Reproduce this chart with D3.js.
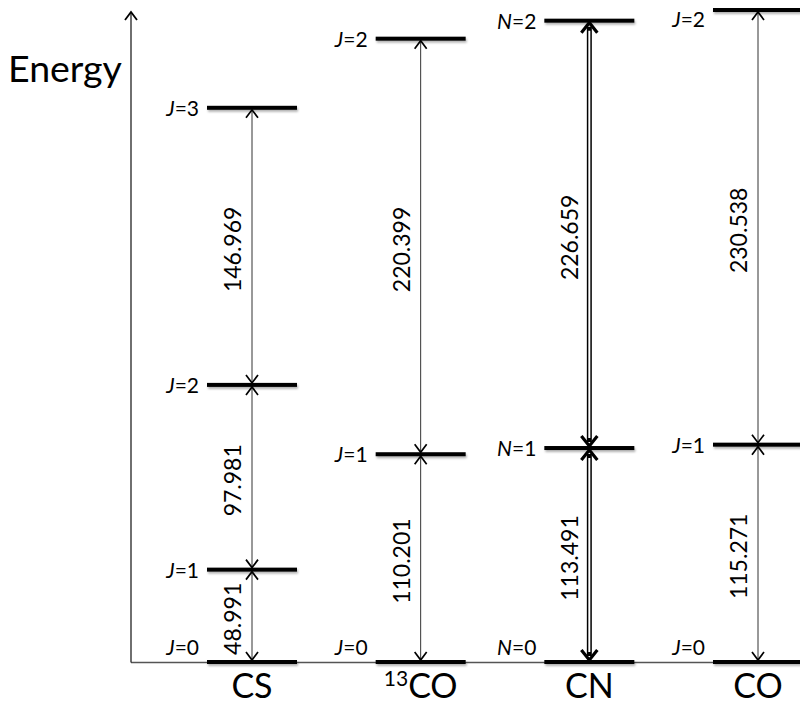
<!DOCTYPE html>
<html><head><meta charset="utf-8">
<script src="https://cdn.jsdelivr.net/npm/d3@7"></script>
<style>body{margin:0;background:#fff} svg{display:block}</style>
</head><body><svg id="c" width="800" height="706"></svg>
<script>
// ---- data ----
const molecules = ["CS", "13CO", "CN", "CO"];
const quantumSymbols = ["J", "J", "N", "J"];
const csFreqs = [48.991, 97.981, 146.969];
const co13Freqs = [110.201, 220.399];
const cnFreqs = [113.491, 226.659];
const coFreqs = [115.271, 230.538];
const transitionFreqs = [csFreqs, co13Freqs, cnFreqs, coFreqs];
const yAxisLabel = "Energy";

// ---- setup ----
const svg = d3.select("#c");
const FONT = "Lato, 'Open Sans', sans-serif";
const baseY = 662, axisX = 131;
const maxE = d3.max(transitionFreqs, f => d3.sum(f));
const y = d3.scaleLinear().domain([0, maxE]).range([baseY, 10]);
const x = d3.scalePoint().domain(molecules).range([252, 758]);
const halfBar = 45;

const defs = svg.append("defs");
const flt = defs.append("filter").attr("id", "sh").attr("filterUnits", "userSpaceOnUse")
  .attr("x", 0).attr("y", 0).attr("width", 800).attr("height", 706);
flt.append("feDropShadow").attr("dx", 1).attr("dy", 2).attr("stdDeviation", 1.2)
  .attr("flood-color", "#000").attr("flood-opacity", 0.3);

// axes
svg.append("line").attr("x1", axisX).attr("x2", 800).attr("y1", baseY + 0.5).attr("y2", baseY + 0.5)
  .attr("stroke", "#555").attr("stroke-width", 1.3);
svg.append("line").attr("x1", axisX).attr("x2", axisX).attr("y1", baseY + 0.5).attr("y2", 12)
  .attr("stroke", "#222").attr("stroke-width", 1.3);
svg.append("path").attr("d", `M${axisX - 6},${20} L${axisX},${12} L${axisX + 6},${20}`)
  .attr("fill", "none").attr("stroke", "#000").attr("stroke-width", 1.8);

svg.append("text").attr("x", 8).attr("y", 82).attr("font-family", FONT).attr("font-size", 37.5)
  .attr("fill", "#000").text(yAxisLabel);

function chevron(g, cx, tipY, dir, size, h, sw) {
  // dir = -1 pointing up, +1 pointing down
  g.append("path")
    .attr("d", `M${cx - size},${tipY - dir * h} L${cx},${tipY} L${cx + size},${tipY - dir * h}`)
    .attr("fill", "none").attr("stroke", "#000").attr("stroke-width", sw)
    .attr("stroke-linejoin", "miter");
}

molecules.forEach((m, i) => {
  const cx = x(m);
  const freqs = transitionFreqs[i];
  const levels = [0];
  freqs.forEach(f => levels.push(levels[levels.length - 1] + f));
  const g = svg.append("g");
  const isDouble = m === "CN";

  // levels (bars)
  levels.forEach((e) => {
    g.append("rect").attr("x", cx - halfBar).attr("width", 2 * halfBar)
      .attr("y", y(e) - 2).attr("height", 4).attr("fill", "#000")
      .attr("filter", "url(#sh)");
  });

  // transitions
  freqs.forEach((f, k) => {
    const y0 = y(levels[k]) - 2, y1 = y(levels[k + 1]) + 2;
    if (isDouble) {
      g.append("line").attr("x1", cx).attr("x2", cx).attr("y1", y0 - 4).attr("y2", y1 + 4)
        .attr("stroke", "#000").attr("stroke-width", 5);
      g.append("line").attr("x1", cx).attr("x2", cx).attr("y1", y0 - 8).attr("y2", y1 + 8)
        .attr("stroke", "#fff").attr("stroke-width", 2);
      chevron(g, cx, y0, 1, 8, 10, 3.2);
      chevron(g, cx, y1, -1, 8, 10, 3.2);
    } else {
      g.append("line").attr("x1", cx).attr("x2", cx).attr("y1", y0).attr("y2", y1)
        .attr("stroke", "#333").attr("stroke-width", 1);
      chevron(g, cx, y0, 1, 6, 8, 1.7);
      chevron(g, cx, y1, -1, 6, 8, 1.7);
    }
    const ym = (y(levels[k]) + y(levels[k + 1])) / 2 + 3;
    g.append("text").attr("transform", `translate(${cx - 11},${ym}) rotate(-90)`)
      .attr("text-anchor", "middle").attr("font-family", FONT).attr("font-size", 23)
      .attr("fill", "#000").text(d3.format(".3f")(f));
  });

  // level labels
  levels.forEach((e, k) => {
    const ty = k === 0 ? y(e) - 7 : Math.max(y(e) + 8, 27);
    const t = g.append("text").attr("x", cx - halfBar - 8).attr("y", ty)
      .attr("text-anchor", "end").attr("font-family", FONT).attr("font-size", 21).attr("fill", "#000");
    t.append("tspan").attr("font-style", "italic").text(quantumSymbols[i]);
    t.append("tspan").text("=" + k);
  });

  // category label
  const lab = svg.append("text").attr("x", cx).attr("y", 698).attr("text-anchor", "middle")
    .attr("font-family", FONT).attr("font-size", 34).attr("fill", "#000");
  const mm = m.match(/^(\d+)(.*)$/);
  if (mm) {
    lab.append("tspan").attr("font-size", 21).attr("dy", -12).text(mm[1]);
    lab.append("tspan").attr("dy", 12).text(mm[2]);
  } else lab.text(m);
});
</script></body></html>
